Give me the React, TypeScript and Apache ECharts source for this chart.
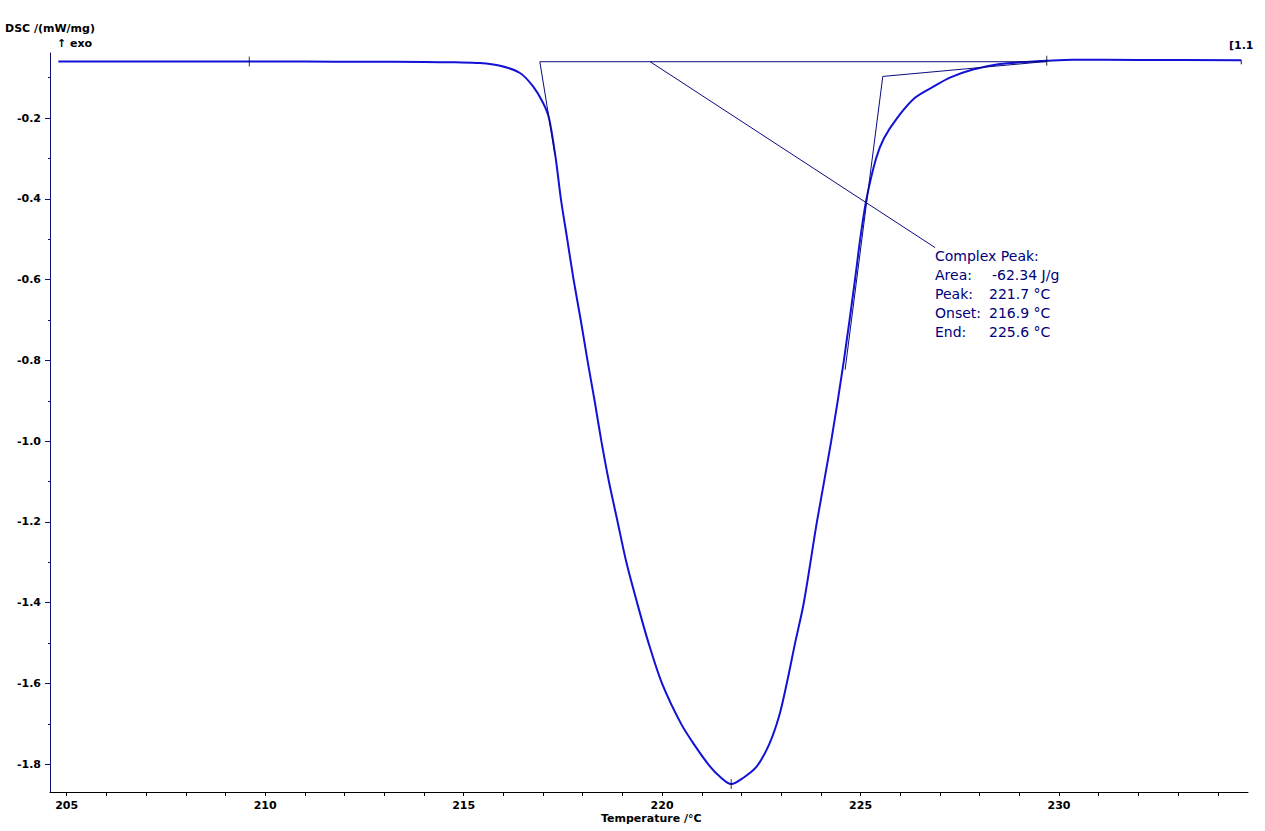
import React, { useEffect, useRef } from "react";
import * as echarts from "echarts";

// Measured DSC curve (temperature in °C, DSC in mW/mg)
const temperature: number[] = [
  204.79, 206.0, 208.0, 209.6, 211.0, 212.5, 214.0, 214.8, 215.41, 215.92,
  216.42, 216.75, 217.0, 217.15, 217.32, 217.45, 217.61, 217.77, 217.95, 218.12,
  218.3, 218.47, 218.66, 218.88, 219.1, 219.37, 219.66, 220.0, 220.48, 220.8,
  221.21, 221.46, 221.74, 222.04, 222.38, 222.7, 222.95, 223.14, 223.35, 223.57,
  223.9, 224.26, 224.58, 224.86, 224.99, 225.15, 225.39, 225.59, 225.92, 226.37,
  226.88, 227.25, 227.83, 228.51, 229.35, 229.69, 230.35, 232.0, 234.59,
];
const dsc: number[] = [
  -0.06, -0.06, -0.0601, -0.0602, -0.0603, -0.0605, -0.0612, -0.0622, -0.0638, -0.0705,
  -0.0885, -0.1217, -0.1621, -0.2, -0.3, -0.4, -0.5, -0.6, -0.7, -0.8,
  -0.9, -1.0, -1.1, -1.2, -1.3, -1.4, -1.5, -1.6, -1.7, -1.75,
  -1.806, -1.831, -1.849, -1.834, -1.806, -1.75, -1.68, -1.6, -1.5, -1.4,
  -1.2, -1.0, -0.8, -0.6, -0.5, -0.4, -0.3, -0.25, -0.2, -0.15,
  -0.12, -0.1, -0.08, -0.066, -0.06, -0.058, -0.0556, -0.0562, -0.0568,
];

// Evaluation construction lines
const baselineX: number[] = [216.92, 229.69];
const baselineY: number[] = [-0.0606, -0.0606];
const onsetTangentX: number[] = [216.92, 217.3];
const onsetTangentY: number[] = [-0.0606, -0.29];
const endTangentX: number[] = [225.56, 224.61];
const endTangentY: number[] = [-0.097, -0.823];
const tailLineX: number[] = [225.56, 229.69];
const tailLineY: number[] = [-0.097, -0.06];
const leaderX: number[] = [219.7, 226.88];
const leaderY: number[] = [-0.0606, -0.521];
const endBracketX: number[] = [234.59, 234.59];
const endBracketY: number[] = [-0.0568, -0.067];

// Cross markers on the curve
const markerX: number[] = [209.6, 229.69, 221.74];
const markerY: number[] = [-0.0602, -0.058, -1.8488];

// Axes
const xMin = 204.58;
const xMax = 234.76;
const yMin = -1.8686;
const yMax = -0.039;
const xLabelValues: number[] = [205, 210, 215, 220, 225, 230];
const xTickValues: number[] = [
  205, 206, 207, 208, 209, 210, 211, 212, 213, 214, 215, 216, 217, 218, 219,
  220, 221, 222, 223, 224, 225, 226, 227, 228, 229, 230, 231, 232, 233, 234,
];
const yLabelValues: number[] = [-1.8, -1.6, -1.4, -1.2, -1.0, -0.8, -0.6, -0.4, -0.2];
const yMinorValues: number[] = [-1.7, -1.5, -1.3, -1.1, -0.9, -0.7, -0.5, -0.3, -0.1];

// Annotation text
const annotationLabels: string[] = ["Complex Peak:", "Area:", "Peak:", "Onset:", "End:"];
const annotationValues: string[] = ["", "-62.34 J/g", "221.7 °C", "216.9 °C", "225.6 °C"];

const zip = (xs: number[], ys: number[]) => xs.map((x, i) => [x, ys[i]]);

export default function App() {
  const ref = useRef<HTMLDivElement>(null);

  useEffect(() => {
    if (!ref.current) return;
    const chart = echarts.init(ref.current, undefined, { renderer: "svg" });
    const navy = "#0a0a80";
    const thin = (name: string, xs: number[], ys: number[]) => ({
      name,
      type: "line",
      data: zip(xs, ys),
      showSymbol: false,
      symbol: "none",
      lineStyle: { color: navy, width: 1 },
      z: 3,
    });

    const annoFont = '14px "DejaVu Sans"';
    const annoGraphics: any[] = [];
    annotationLabels.forEach((lab, i) => {
      annoGraphics.push({
        type: "text",
        left: 935,
        top: 249 + i * 19,
        style: { text: lab, font: annoFont, fill: "#00007a" },
      });
      if (annotationValues[i]) {
        annoGraphics.push({
          type: "text",
          left: i === 1 ? 992 : 989,
          top: 249 + i * 19,
          style: { text: annotationValues[i], font: annoFont, fill: "#00007a" },
        });
      }
    });

    const axisFont = { color: "#000", fontWeight: "bold" as const, fontSize: 11, fontFamily: "DejaVu Sans" };

    chart.setOption({
      animation: false,
      backgroundColor: "#ffffff",
      grid: { left: 50, top: 53, right: 17, bottom: 39, containLabel: false, outerBoundsMode: "none" },
      xAxis: [
        {
          type: "value",
          min: xMin,
          max: xMax,
          axisLine: { show: true, onZero: false, lineStyle: { color: "#000", width: 1 } },
          axisTick: { show: true, customValues: xTickValues, length: 4, lineStyle: { color: "#000" } },
          axisLabel: {
            customValues: xLabelValues,
            formatter: (v: number) => String(Math.round(v)),
            margin: 8,
            ...axisFont,
          },
          splitLine: { show: false },
        },
      ],
      yAxis: [
        {
          type: "value",
          min: yMin,
          max: yMax,
          position: "left",
          axisLine: { show: true, onZero: false, lineStyle: { color: "#10106e", width: 1 } },
          axisTick: { show: true, customValues: yLabelValues, length: 5, lineStyle: { color: "#10106e" } },
          axisLabel: {
            customValues: yLabelValues,
            formatter: (v: number) => v.toFixed(1),
            margin: 9,
            ...axisFont,
          },
          splitLine: { show: false },
        },
        {
          type: "value",
          min: yMin,
          max: yMax,
          position: "left",
          axisLine: { show: false, onZero: false },
          axisTick: { show: true, customValues: yMinorValues, length: 2, lineStyle: { color: "#10106e" } },
          axisLabel: { show: false },
          splitLine: { show: false },
        },
      ],
      series: [
        {
          name: "DSC",
          type: "line",
          data: zip(temperature, dsc),
          smooth: 0.3,
          showSymbol: false,
          symbol: "none",
          lineStyle: { color: "#1212d6", width: 2 },
          z: 2,
        },
        thin("Baseline", baselineX, baselineY),
        thin("Onset tangent", onsetTangentX, onsetTangentY),
        thin("End tangent", endTangentX, endTangentY),
        thin("Tail line", tailLineX, tailLineY),
        thin("Leader", leaderX, leaderY),
        thin("End bracket", endBracketX, endBracketY),
        {
          name: "Markers",
          type: "scatter",
          data: zip(markerX, markerY),
          symbol: "rect",
          symbolSize: [1, 10],
          itemStyle: { color: "#000" },
          z: 4,
        },
      ],
      graphic: [
        { type: "text", left: 5, top: 23, style: { text: "DSC /(mW/mg)", font: 'bold 11px "DejaVu Sans"', fill: "#000" } },
        { type: "text", left: 57, top: 38, style: { text: "↑ exo", font: 'bold 11px "DejaVu Sans"', fill: "#000" } },
        { type: "text", left: 601, top: 813, style: { text: "Temperature /°C", font: 'bold 11px "DejaVu Sans"', fill: "#000" } },
        { type: "text", left: 1229, top: 40, style: { text: "[1.1", font: 'bold 11px "DejaVu Sans"', fill: "#000033" } },
        ...annoGraphics,
      ],
    });
    return () => chart.dispose();
  }, []);

  return (
    <div
      ref={ref}
      style={{ position: "fixed", left: 0, top: 0, width: 1265, height: 831, background: "#fff" }}
    />
  );
}
